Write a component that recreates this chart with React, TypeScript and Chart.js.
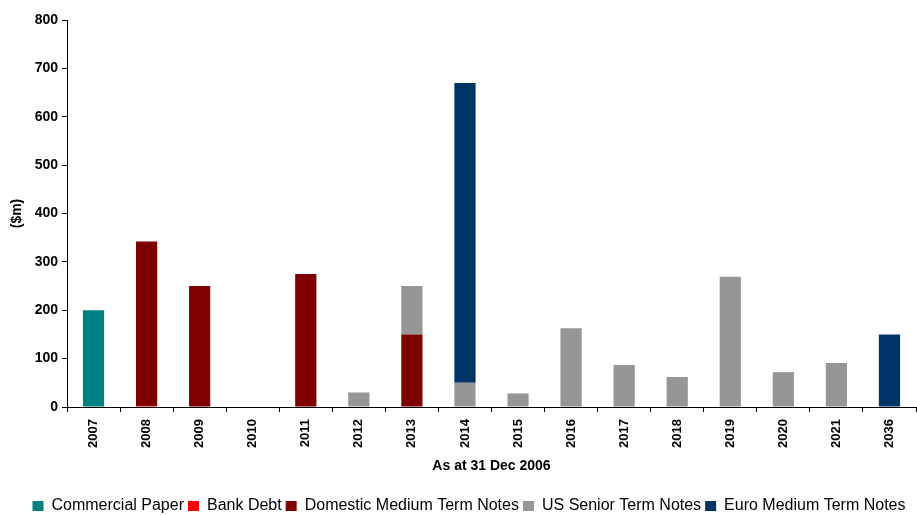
import React, { useEffect, useRef } from "react";
import { Chart, registerables } from "chart.js";

Chart.register(...registerables);

const categories = ["2007", "2008", "2009", "2010", "2011", "2012", "2013", "2014", "2015", "2016", "2017", "2018", "2019", "2020", "2021", "2036"];
const commercialPaper = [200, null, null, null, null, null, null, null, null, null, null, null, null, null, null, null];
const bankDebt = [null, 2, null, null, null, null, null, null, null, null, null, null, null, null, null, null];
const domesticMTN = [null, 340, 250, null, 275, null, 150, null, null, null, null, null, null, null, null, null];
const usSeniorNotes = [null, null, null, null, null, 30, 100, 50, 28, 163, 87, 62, 269, 72, 91, null];
const euroMTN = [null, null, null, null, null, null, null, 620, null, null, null, null, null, null, null, 150];
const yTicks = [0, 100, 200, 300, 400, 500, 600, 700, 800];

const FONT = "'Liberation Sans', Arial, Helvetica, sans-serif";

const legendShift = {
  id: "legendShift",
  afterLayout(chart: any) {
    const lg = chart.legend;
    if (!lg) return;
    const h = lg.bottom - lg.top;
    lg.top = 494;
    lg.bottom = 494 + h;
    lg.left += 11;
    lg.right += 11;
  },
};

export default function App() {
  const ref = useRef<HTMLCanvasElement | null>(null);

  useEffect(() => {
    document.body.style.margin = "0";
    const ctx = ref.current;
    if (!ctx) return;
    const chart = new Chart(ctx, {
      type: "bar",
      data: {
        labels: categories,
        datasets: [
          { label: "Commercial Paper", data: commercialPaper, backgroundColor: "#008080" },
          { label: "Bank Debt", data: bankDebt, backgroundColor: "#FF0000" },
          { label: "Domestic Medium Term Notes", data: domesticMTN, backgroundColor: "#800000" },
          { label: "US Senior Term Notes", data: usSeniorNotes, backgroundColor: "#969696" },
          { label: "Euro Medium Term Notes", data: euroMTN, backgroundColor: "#003366" },
        ],
      },
      plugins: [legendShift],
      options: {
        animation: false,
        responsive: true,
        maintainAspectRatio: false,
        datasets: { bar: { barPercentage: 0.4, categoryPercentage: 1, borderWidth: 0 } },
        layout: { padding: { top: 20, right: 1, bottom: 3, left: 0 } },
        plugins: {
          tooltip: { enabled: false },
          legend: {
            position: "bottom",
            labels: {
              font: { family: FONT, size: 16 },
              color: "#000",
              boxWidth: 11,
              boxHeight: 10,
              padding: 4,
            },
          },
        },
        scales: {
          x: {
            stacked: true,
            afterFit: (s: any) => { s.height = 75; },
            grid: { display: true, offset: true, drawOnChartArea: false, drawTicks: true, tickLength: 5, color: "#000" },
            border: { display: true, color: "#000", width: 1 },
            ticks: {
              autoSkip: false,
              minRotation: 90,
              maxRotation: 90,
              padding: 7,
              color: "#000",
              font: { family: FONT, size: 13, weight: "bold" },
            },
            title: {
              display: true,
              text: "As at 31 Dec 2006",
              color: "#000",
              font: { family: FONT, size: 14, weight: "bold" },
              padding: { top: 0, bottom: 7 },
            },
          },
          y: {
            stacked: true,
            min: 0,
            max: 800,
            afterFit: (s: any) => { s.width = 67; },
            afterBuildTicks: (s: any) => { s.ticks = yTicks.map((v) => ({ value: v })); },
            grid: { display: true, drawOnChartArea: false, drawTicks: true, tickLength: 5, color: "#000" },
            border: { display: true, color: "#000", width: 1 },
            ticks: {
              padding: 4,
              color: "#000",
              font: { family: FONT, size: 14, weight: "bold" },
            },
            title: {
              display: true,
              text: "($m)",
              color: "#000",
              font: { family: FONT, size: 14, weight: "bold" },
              padding: { top: 9, bottom: 0 },
            },
          },
        },
      },
    });
    return () => chart.destroy();
  }, []);

  return (
    <div style={{ width: 917, height: 515, position: "relative", background: "#fff" }}>
      <canvas ref={ref} />
    </div>
  );
}
